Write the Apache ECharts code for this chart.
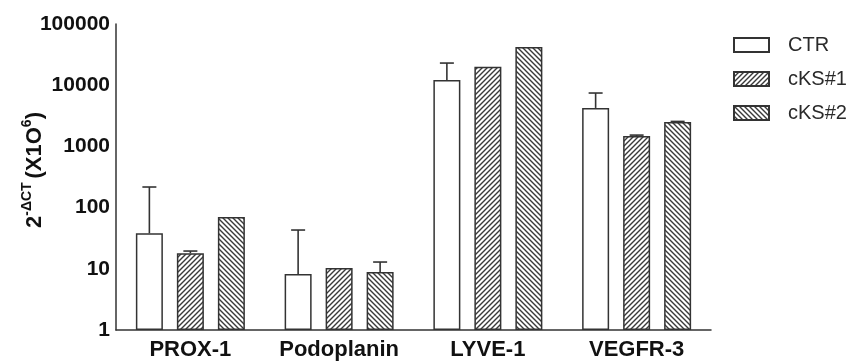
<!DOCTYPE html>
<html>
<head>
<meta charset="utf-8">
<script src="https://cdn.jsdelivr.net/npm/echarts@6/dist/echarts.min.js"></script>
<style>
html,body{margin:0;padding:0;background:#fff;}
#chart{width:863px;height:364px;}
</style>
</head>
<body>
<div id="chart"></div>
<script>
// ---- data ----
const categories = ['PROX-1', 'Podoplanin', 'LYVE-1', 'VEGFR-3'];
const seriesNames = ['CTR', 'cKS#1', 'cKS#2'];
const ctrValues  = [38, 8.2, 12200, 4250];
const cks1Values = [18, 10.3, 20000, 1480];
const cks2Values = [70, 8.9, 42000, 2500];
const ctrErrTop  = [217, 43, 23000, 7450];
const cks1ErrTop = [19.5, null, null, 1530];
const cks2ErrTop = [null, 12.9, null, 2560];
const yTickValues = [1, 10, 100, 1000, 10000, 100000];

// ---- style ----
const FONT = "'Liberation Sans', Arial, sans-serif";
const BAR_W = 27;
const BAR_GAP = 14;
const INK = '#333';

function hatch(dir) {
  const s = 5;
  const c = document.createElement('canvas');
  c.width = s; c.height = s;
  const g = c.getContext('2d');
  g.fillStyle = '#fff';
  g.fillRect(0, 0, s, s);
  g.strokeStyle = '#3a3a3a';
  g.lineWidth = 1.4;
  g.beginPath();
  if (dir === 'fwd') {
    g.moveTo(0, s); g.lineTo(s, 0);
    g.moveTo(-1, 1); g.lineTo(1, -1);
    g.moveTo(s - 1, s + 1); g.lineTo(s + 1, s - 1);
  } else {
    g.moveTo(0, 0); g.lineTo(s, s);
    g.moveTo(-1, s - 1); g.lineTo(1, s + 1);
    g.moveTo(s - 1, -1); g.lineTo(s + 1, 1);
  }
  g.stroke();
  return { image: c, repeat: 'repeat' };
}

const fills = ['#ffffff', hatch('fwd'), hatch('back')];
const valueSets = [ctrValues, cks1Values, cks2Values];
const errSets = [ctrErrTop, cks1ErrTop, cks2ErrTop];

const barSeries = seriesNames.map((name, i) => ({
  name: name,
  type: 'bar',
  barWidth: BAR_W,
  barGap: (BAR_GAP / BAR_W * 100) + '%',
  data: valueSets[i],
  itemStyle: { color: fills[i], borderColor: INK, borderWidth: 1.5 },
  z: 2
}));

const errSeries = seriesNames.map((name, i) => {
  const offset = (i - 1) * (BAR_W + BAR_GAP);
  const data = [];
  errSets[i].forEach((e, k) => { if (e != null) data.push([k, valueSets[i][k], e]); });
  return {
    type: 'custom',
    name: name + ' err',
    z: 3,
    silent: true,
    data: data,
    renderItem: function (params, api) {
      const base = api.coord([api.value(0), api.value(1)]);
      const top = api.coord([api.value(0), api.value(2)]);
      const x = base[0] + offset;
      const half = 7;
      return {
        type: 'group',
        children: [
          { type: 'line', shape: { x1: x, y1: base[1], x2: x, y2: top[1] }, style: { stroke: INK, lineWidth: 1.6 } },
          { type: 'line', shape: { x1: x - half, y1: top[1], x2: x + half, y2: top[1] }, style: { stroke: INK, lineWidth: 1.6 } }
        ]
      };
    }
  };
});

const chart = echarts.init(document.getElementById('chart'), null, { renderer: 'canvas' });
chart.setOption({
  animation: false,
  backgroundColor: '#fff',
  grid: { left: 116, right: 152, top: 24, bottom: 34, containLabel: false, outerBoundsMode: 'none' },
  legend: {
    data: seriesNames,
    orient: 'vertical',
    left: 733,
    top: 35,
    padding: 0,
    itemWidth: 35,
    itemHeight: 14,
    itemGap: 14,
    icon: 'rect',
    textStyle: { fontFamily: FONT, fontSize: 20, color: '#2a2a2a', padding: [0, 0, 0, 14] }
  },
  xAxis: {
    type: 'category',
    data: categories,
    axisLine: { lineStyle: { color: INK, width: 1.5 } },
    axisTick: { alignWithLabel: true, length: 6, lineStyle: { color: INK, width: 1.5 } },
    axisLabel: { interval: 0, fontFamily: FONT, fontSize: 22, fontWeight: 'bold', color: '#111', margin: 9 }
  },
  yAxis: {
    type: 'log',
    logBase: 10,
    min: yTickValues[0],
    max: yTickValues[yTickValues.length - 1],
    splitLine: { show: false },
    axisLine: { show: true, lineStyle: { color: INK, width: 1.5 } },
    axisTick: { show: false },
    axisLabel: {
      fontFamily: FONT, fontSize: 21, fontWeight: 'bold', color: '#111', margin: 6,
      formatter: v => String(Math.round(v))
    },
    name: '{a|2}{s|-ΔCT }{a|(X1O}{s|6}{a|)}',
    nameLocation: 'middle',
    nameRotate: 90,
    nameGap: 70,
    nameMoveOverlap: false,
    nameTextStyle: {
      fontFamily: FONT,
      color: '#111',
      padding: [0, 0, 0, 14],
      rich: {
        a: { fontFamily: FONT, fontSize: 22, fontWeight: 'bold', color: '#111', lineHeight: 26, verticalAlign: 'bottom' },
        s: { fontFamily: FONT, fontSize: 14, fontWeight: 'bold', color: '#111', lineHeight: 26, verticalAlign: 'top' }
      }
    }
  },
  series: barSeries.concat(errSeries)
});
</script>
</body>
</html>
